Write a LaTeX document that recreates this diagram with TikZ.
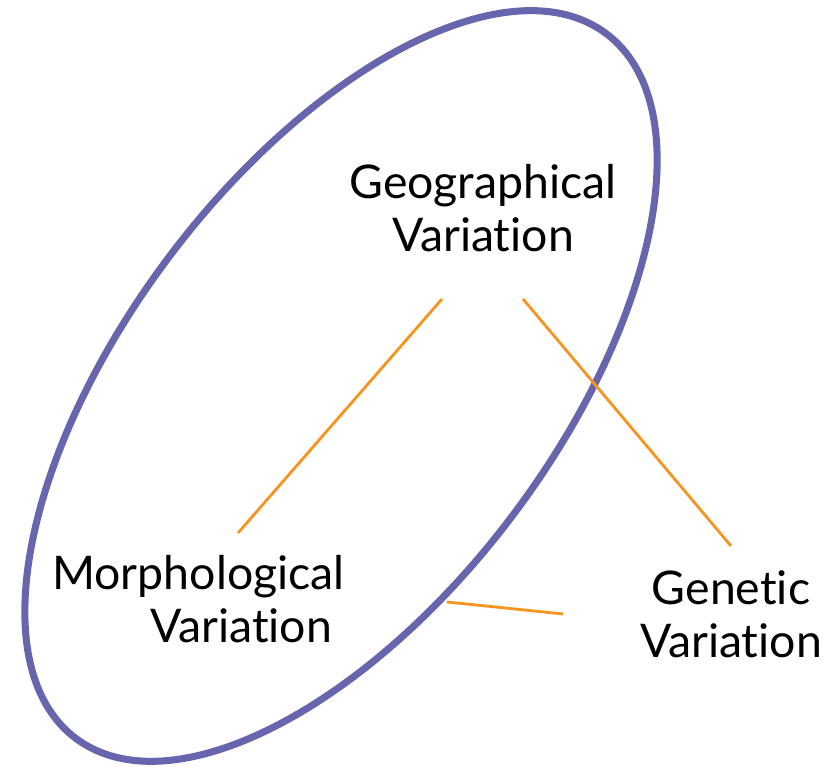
\documentclass[tikz,border=0pt]{standalone}
\usepackage{fontspec}
\setmainfont{Lato}[Ligatures=NoCommon]
\usepackage{tikz}
\usetikzlibrary{calc}

\definecolor{ringblue}{RGB}{103,101,173}
\definecolor{linkorange}{RGB}{247,148,29}

\begin{document}
\begin{tikzpicture}[x=0.03cm, y=0.03cm,
        label_style/.style={inner sep=0pt,font=\fontsize{39.6}{46}\selectfont},
        ring_style/.style={draw=ringblue, line width=6pt},
        link_style/.style={draw=linkorange, line width=2.4pt}]

        \useasboundingbox (0,0) rectangle (833,767);

        % the ring round two of the labels
        \draw [ring_style, rotate around={53:(341,381)}] (341,381) ellipse [x radius=13.23cm, y radius=6.45cm];

        \node [label_style, align=center, anchor=base](geo) at (483,515) {Geographical\\Variation};

        \node [label_style, align=left, anchor=base west](morph) at (52,124) {Morphological\\\hspace*{2.94cm}Variation};

        \node [label_style, align=center, anchor=base](gen) at (731,109) {Genetic\\Variation};

        % line ends
        \coordinate (geoL) at (442,468);
        \coordinate (geoR) at (523,468);
        \coordinate (morphT) at (238,234);
        \coordinate (genT) at (731,221);
        \coordinate (ringE) at (447,165);
        \coordinate (genL) at (563,153);

        \draw [link_style] (geoL) -- (morphT);

        \draw [link_style] (geoR) -- (genT);

        \draw [link_style] (ringE) -- (genL);

        \end{tikzpicture}
\end{document}
